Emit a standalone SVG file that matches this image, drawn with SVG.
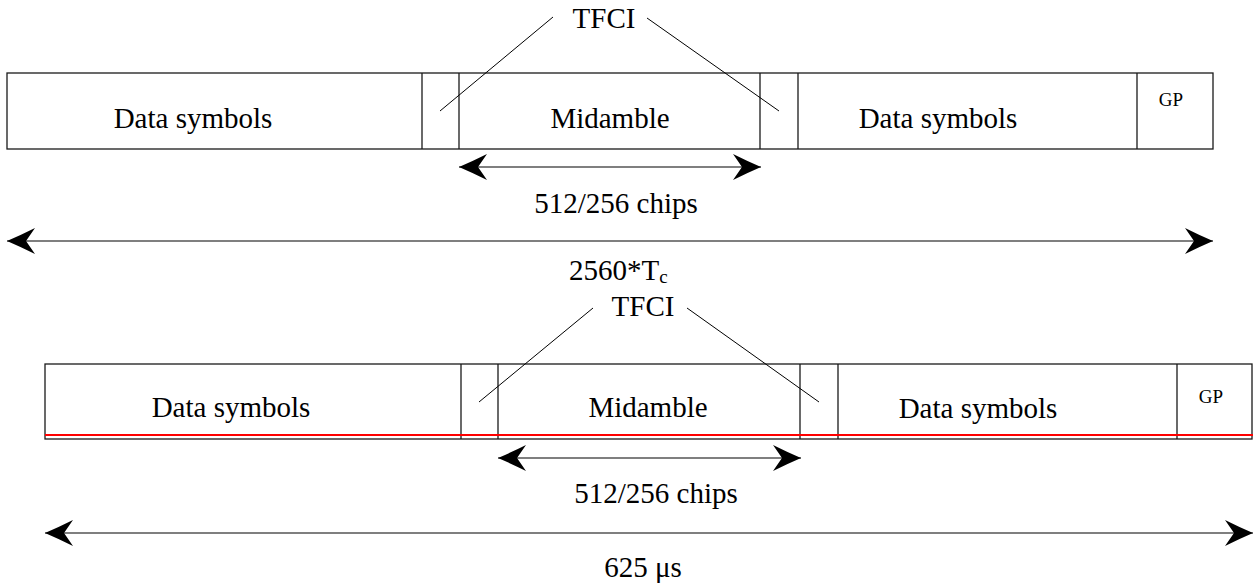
<svg xmlns="http://www.w3.org/2000/svg" width="1253" height="588" viewBox="0 0 1253 588">
  <style>
    .box { fill: #fff; stroke: #1a1a1a; stroke-width: 1.3; }
    .div { stroke: #1a1a1a; stroke-width: 1.3; }
    .lead { stroke: #000; stroke-width: 1; fill: none; }
    .dim { stroke: #555; stroke-width: 1.5; fill: none; marker-start: url(#ah); marker-end: url(#ah); }
    .red { stroke: #ff0000; stroke-width: 2.2; }
    text { font-family: "Liberation Serif", "Times New Roman", serif; fill: #000; font-size: 29px; text-anchor: middle; }
    .sm { font-size: 19px; }
  </style>
  <defs>
    <marker id="ah" viewBox="0 0 28 28" refX="28" refY="14" markerWidth="28" markerHeight="28" markerUnits="userSpaceOnUse" orient="auto-start-reverse">
      <path d="M28,14 Q14,8 0,1 L9,14 L0,27 Q14,20 28,14 Z" fill="#000"/>
    </marker>
  </defs>

  <!-- Top burst -->
  <g id="burst1">
    <rect class="box" x="7" y="73" width="1206" height="76"/>
    <line class="div" x1="422" y1="73" x2="422" y2="149"/>
    <line class="div" x1="459" y1="73" x2="459" y2="149"/>
    <line class="div" x1="760" y1="73" x2="760" y2="149"/>
    <line class="div" x1="798" y1="73" x2="798" y2="149"/>
    <line class="div" x1="1137" y1="73" x2="1137" y2="149"/>
  </g>
  <g id="b1-data1"><text x="193" y="128">Data symbols</text></g>
  <g id="b1-mid"><text x="610" y="128">Midamble</text></g>
  <g id="b1-data2"><text x="938" y="128">Data symbols</text></g>
  <g id="b1-gp"><text class="sm" x="1171" y="106">GP</text></g>
  <g id="b1-tfci"><text x="604" y="28">TFCI</text></g>
  <g id="b1-chips"><text x="616" y="213">512/256 chips</text></g>
  <g id="b1-len"><text x="569" y="280" style="text-anchor:start">2560*T<tspan font-size="19" dy="3">c</tspan></text></g>

  <!-- Bottom burst -->
  <g id="burst2">
    <rect class="box" x="45" y="364" width="1207" height="75"/>
    <line class="div" x1="461" y1="364" x2="461" y2="439"/>
    <line class="div" x1="498" y1="364" x2="498" y2="439"/>
    <line class="div" x1="800" y1="364" x2="800" y2="439"/>
    <line class="div" x1="838" y1="364" x2="838" y2="439"/>
    <line class="div" x1="1177" y1="364" x2="1177" y2="439"/>
    <line class="red" x1="45" y1="435" x2="1253" y2="435"/>
  </g>
  <g id="b2-data1"><text x="231" y="417">Data symbols</text></g>
  <g id="b2-mid"><text x="648" y="417">Midamble</text></g>
  <g id="b2-data2"><text x="978" y="418">Data symbols</text></g>
  <g id="b2-gp"><text class="sm" x="1211" y="403">GP</text></g>
  <g id="b2-tfci"><text x="643" y="316">TFCI</text></g>
  <g id="b2-chips"><text x="656" y="503">512/256 chips</text></g>
  <g id="b2-len"><text x="643" y="577">625 μs</text></g>

  <!-- Connectors -->
  <g id="connectors">
    <line class="lead" x1="553" y1="17" x2="440" y2="111"/>
    <line class="lead" x1="647" y1="18" x2="779" y2="111"/>
    <line class="dim" x1="459" y1="167" x2="761" y2="167"/>
    <line class="dim" x1="7" y1="241" x2="1213" y2="241"/>

    <line class="lead" x1="593" y1="308" x2="479" y2="402"/>
    <line class="lead" x1="687" y1="308" x2="819" y2="402"/>
    <line class="dim" x1="498" y1="458" x2="801" y2="458"/>
    <line class="dim" x1="45" y1="533" x2="1253" y2="533"/>
  </g>
</svg>
